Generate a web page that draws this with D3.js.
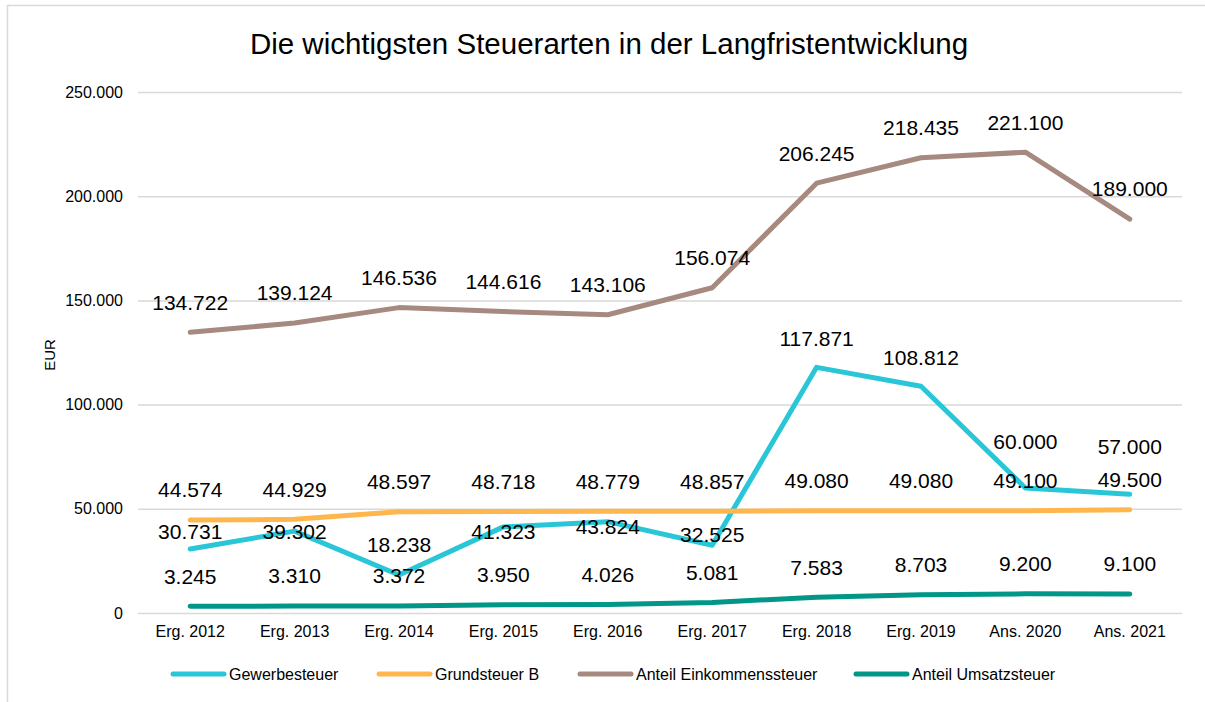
<!DOCTYPE html>
<html>
<head>
<meta charset="utf-8">
<script src="https://cdn.jsdelivr.net/npm/d3@7"></script>
<style>
  body { margin: 0; background: #fff; }
  svg text { font-family: "Liberation Sans", Arial, sans-serif; fill: #000; }
</style>
</head>
<body>
<div id="chart"></div>
<script>
// ---------------------------//
//            DATA            //
// ---------------------------//
const categories = ["Erg. 2012", "Erg. 2013", "Erg. 2014", "Erg. 2015", "Erg. 2016",
                    "Erg. 2017", "Erg. 2018", "Erg. 2019", "Ans. 2020", "Ans. 2021"];

const gewerbesteuer = [30731, 39302, 18238, 41323, 43824, 32525, 117871, 108812, 60000, 57000];
const grundsteuerB = [44574, 44929, 48597, 48718, 48779, 48857, 49080, 49080, 49100, 49500];
const einkommensteuer = [134722, 139124, 146536, 144616, 143106, 156074, 206245, 218435, 221100, 189000];
const umsatzsteuer = [3245, 3310, 3372, 3950, 4026, 5081, 7583, 8703, 9200, 9100];

const seriesNames = ["Gewerbesteuer", "Grundsteuer B", "Anteil Einkommenssteuer", "Anteil Umsatzsteuer"];
const yTicks = [0, 50000, 100000, 150000, 200000, 250000];

// ---------------------------//
//          CANVAS            //
// ---------------------------//
const W = 1205, H = 702;
const plot = {left: 138, right: 1182, top: 92, bottom: 613};

const svg = d3.select("#chart").append("svg")
    .attr("width", W)
    .attr("height", H);

// outer chart border
svg.append("rect")
    .attr("x", 7.5).attr("y", 5.5)
    .attr("width", W).attr("height", H)
    .attr("fill", "none")
    .attr("stroke", "#d9d9d9")
    .attr("stroke-width", 1.5);

// title
svg.append("text")
    .attr("x", 609).attr("y", 54)
    .attr("text-anchor", "middle")
    .style("font-size", "29.5px")
    .text("Die wichtigsten Steuerarten in der Langfristentwicklung");

// ---------------------------//
//        SCALES & AXES       //
// ---------------------------//
const x = d3.scaleBand()
    .domain(categories)
    .range([plot.left, plot.right]);

const y = d3.scaleLinear()
    .domain([0, 250000])
    .range([plot.bottom, plot.top]);

const fmt = v => v === 0 ? "0" : d3.format(",")(v).replace(/,/g, ".");

// gridlines + y labels
const yAxis = svg.append("g")
    .attr("transform", `translate(${plot.left},0)`)
    .call(d3.axisLeft(y).tickValues(yTicks).tickFormat(fmt)
        .tickSize(-(plot.right - plot.left)).tickPadding(15));
yAxis.select(".domain").remove();
yAxis.selectAll(".tick line").attr("stroke", "#d9d9d9").attr("stroke-width", 1.5);
yAxis.selectAll(".tick text")
    .style("font-size", "16px")
    .style("font-family", "'Liberation Sans', Arial, sans-serif")
    .attr("fill", "#000");

// x labels
const xAxis = svg.append("g")
    .attr("transform", `translate(0,${plot.bottom})`)
    .call(d3.axisBottom(x).tickSize(0).tickPadding(13));
xAxis.select(".domain").remove();
xAxis.selectAll(".tick text")
    .style("font-size", "16px")
    .style("font-family", "'Liberation Sans', Arial, sans-serif")
    .attr("fill", "#000");

// axis title
svg.append("text")
    .attr("transform", "translate(55,355) rotate(-90)")
    .attr("text-anchor", "middle")
    .style("font-size", "15px")
    .text("EUR");

// ---------------------------//
//           LINES            //
// ---------------------------//
const colors = ["#29c6d8", "#ffb74d", "#a68a80", "#009688"];
const allSeries = [gewerbesteuer, grundsteuerB, einkommensteuer, umsatzsteuer];

// label offsets (px above the point); Gewerbesteuer labels were moved by hand in the original
const labelDy = [
    [17, -1, 30, -5, -5, 11, 29, 29, 46, 48],
    null, null, null
];

const line = d3.line()
    .x((d, i) => x(categories[i]) + x.bandwidth() / 2)
    .y(d => y(d));

allSeries.forEach((s, k) => {
    svg.append("path")
        .datum(s)
        .attr("d", line)
        .attr("fill", "none")
        .attr("stroke", colors[k])
        .attr("stroke-width", 5)
        .attr("stroke-linecap", "round")
        .attr("stroke-linejoin", "round");
});

// data labels on top
allSeries.forEach((s, k) => {
    svg.append("g").selectAll("text")
        .data(s)
        .join("text")
        .attr("x", (d, i) => x(categories[i]) + x.bandwidth() / 2)
        .attr("y", (d, i) => y(d) - (labelDy[k] ? labelDy[k][i] : 30))
        .attr("dy", "0.35em")
        .attr("text-anchor", "middle")
        .style("font-size", "21px")
        .text(d => fmt(d));
});

// ---------------------------//
//           LEGEND           //
// ---------------------------//
const legendX = [171, 377, 578, 854];
const legend = svg.append("g").attr("transform", "translate(0,674)");
seriesNames.forEach((name, k) => {
    const g = legend.append("g").attr("transform", `translate(${legendX[k]},0)`);
    g.append("line")
        .attr("x1", 2).attr("x2", 53)
        .attr("stroke", colors[k])
        .attr("stroke-width", 5)
        .attr("stroke-linecap", "round");
    g.append("text")
        .attr("x", 58).attr("dy", "0.35em")
        .style("font-size", "16px")
        .text(name);
});
</script>
</body>
</html>
